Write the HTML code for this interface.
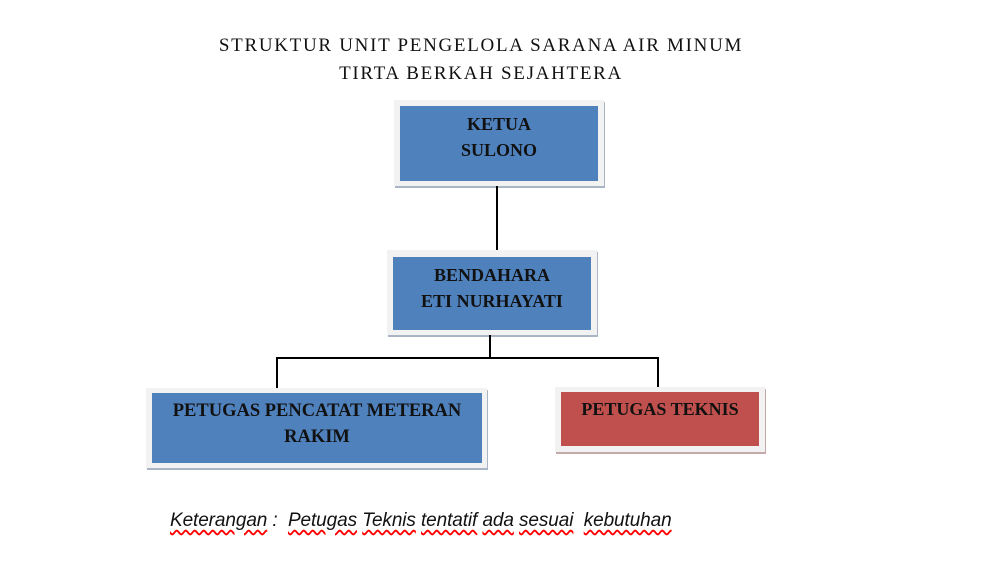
<!DOCTYPE html>
<html><head><style>
body{margin:0;width:998px;height:568px;background:#fff;position:relative;overflow:hidden;font-family:"Liberation Serif",serif}
.t{position:absolute;left:0;width:962px;text-align:center;font-size:19px;letter-spacing:1.7px;color:#111}
.o{position:absolute;background:#f2f2f2;box-shadow:1px 2px 0 #a9b4c4}
.i{position:absolute;color:#111;text-align:center;font-size:18px;font-weight:bold;line-height:26px}
.b{background:#4f81bd}.r{background:#c0504d}
.l{position:absolute;background:#000}
.k{position:absolute;left:170px;top:510px;font-family:"Liberation Sans",sans-serif;font-style:italic;font-size:19px;letter-spacing:-0.1px;color:#111;white-space:pre}
.w{text-decoration:underline wavy red;text-underline-offset:3px}
</style></head><body>
<div class="t" style="top:35px">STRUKTUR UNIT PENGELOLA SARANA AIR MINUM</div>
<div class="t" style="top:63px">TIRTA BERKAH SEJAHTERA</div>

<div class="o" style="left:394px;top:100px;width:210px;height:86px"></div>
<div class="i b" style="left:400px;top:106px;width:198px;height:75px;padding-top:5px;box-sizing:border-box">KETUA<br>SULONO</div>

<div class="l" style="left:496px;top:186px;width:2px;height:64px"></div>

<div class="o" style="left:387px;top:250px;width:210px;height:85px"></div>
<div class="i b" style="left:393px;top:257px;width:198px;height:73px;padding-top:5px;box-sizing:border-box">BENDAHARA<br>ETI NURHAYATI</div>

<div class="l" style="left:489px;top:335px;width:2px;height:23px"></div>
<div class="l" style="left:276px;top:357px;width:383px;height:2px"></div>
<div class="l" style="left:276px;top:357px;width:2px;height:31px"></div>
<div class="l" style="left:657px;top:357px;width:2px;height:30px"></div>

<div class="o" style="left:146px;top:388px;width:341px;height:80px"></div>
<div class="i b" style="left:152px;top:393px;width:330px;height:70px;padding-top:5px;box-sizing:border-box;font-size:18.5px">PETUGAS PENCATAT METERAN<br>RAKIM</div>

<div class="o" style="left:555px;top:387px;width:210px;height:65px;box-shadow:1px 2px 0 #c4a9a9"></div>
<div class="i r" style="left:561px;top:392px;width:198px;height:54px;padding-top:4px;box-sizing:border-box">PETUGAS TEKNIS</div>

<div class="k"><span class="w">Keterangan</span> :  <span class="w">Petugas</span> <span class="w">Teknis</span> <span class="w">tentatif</span> <span class="w">ada</span> <span class="w">sesuai</span>  <span class="w">kebutuhan</span></div>
</body></html>
